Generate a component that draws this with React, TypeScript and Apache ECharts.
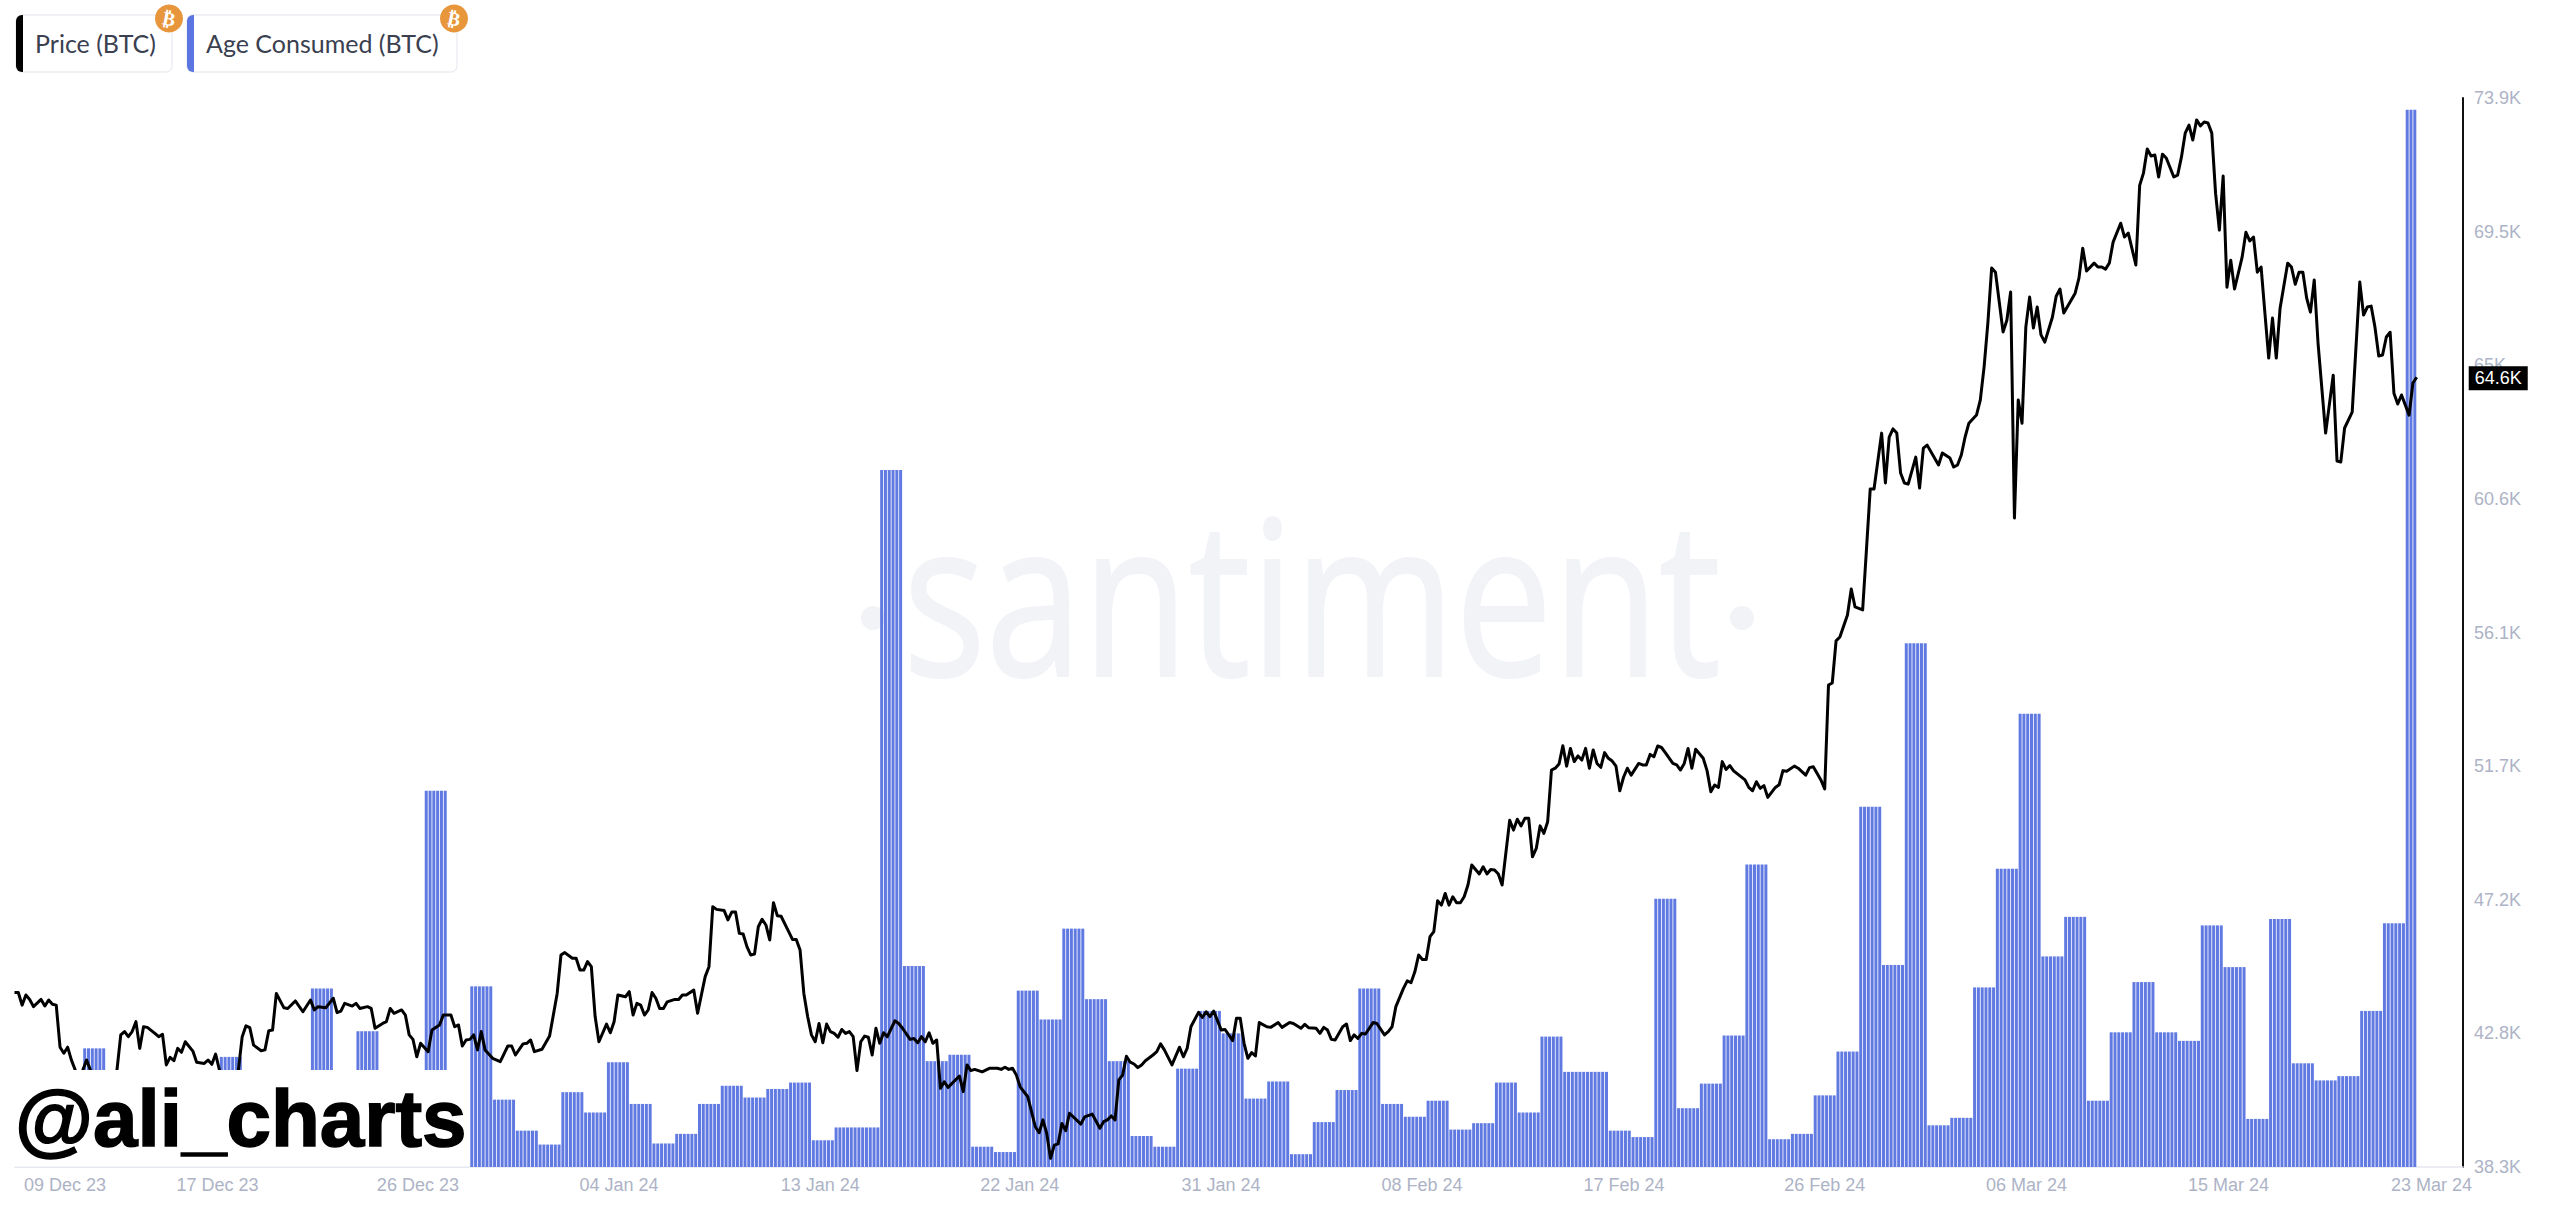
import React, { useEffect, useRef } from "react";
import * as echarts from "echarts";

// 4-hour step index, price in thousands of USD
const pricePoints: [number, number][] = [
[0,44.11],[1,44.11],[2,43.69],[3,44.03],[4,43.88],[5,43.64],[7,43.88],[8,43.66],[9,43.86],[10,43.72],[11,43.69],[12,42.29],[13,42.09],[14,42.29],[15,41.86],[16,41.53],[17,41.0],[18,41.53],[19,41.86],[20,41.53],[21,41.0],[24,41.0],[27,41.53],
[28,42.7],[29,42.81],[30,42.64],[31,42.81],[32,43.14],[33,42.25],[34,42.97],[35,42.95],[37,42.75],[38,42.64],[39,42.72],[40,41.7],[41,41.95],[42,41.84],[43,42.25],[44,42.12],[45,42.47],[47,42.16],[48,41.79],[50,41.75],[51,41.86],[52,41.72],[53,42.06],[54,41.53],[56,41.0],[59,41.53],
[60,42.64],[61,43.0],[62,42.94],[63,42.36],[65,42.17],[66,42.2],[67,42.84],[68,42.86],[69,44.08],[71,43.6],[72,43.58],[74,43.83],[76,43.47],[78,43.86],[79,43.53],[80,43.64],[82,43.6],[84,43.92],[85,43.44],[86,43.49],[87,43.75],[89,43.66],[90,43.75],[91,43.58],[93,43.64],[94,43.58],[95,42.92],[97,43.08],[98,43.14],[99,43.58],[100,43.42],[102,43.53],[103,43.36],[104,42.7],[105,42.55],[106,41.97],[107,42.42],[109,42.14],[110,42.86],[112,43.03],[113,43.36],[115,43.36],[116,42.97],[117,43.03],[118,42.33],[119,42.53],[120,42.55],[121,42.7],[122,42.2],[123,42.81],[124,42.2],[126,41.92],[128,41.81],[130,42.33],[131,42.33],[132,42.03],[134,42.4],[135,42.42],[136,42.53],[137,42.14],[139,42.22],[141,42.66],[143,44.08],[144,45.36],[145,45.44],[147,45.25],[148,45.25],[149,44.86],[150,44.86],[151,45.14],[152,44.97],[153,43.31],[154,42.47],[156,43.06],[157,42.77],[158,43.14],[159,44.03],[161,43.97],[162,44.14],[163,43.36],[164,43.75],[165,43.69],[166,43.36],[167,43.53],[168,44.11],[169,43.92],[170,43.58],[171,43.58],[172,43.8],[174,43.88],[175,43.88],[176,44.03],[177,44.03],[179,44.19],[180,43.42],[182,44.64],[183,44.97],[184,46.97],[185,46.88],[187,46.84],[188,46.53],[189,46.79],[190,46.79],[191,46.08],[192,46.06],[193,45.64],[194,45.36],[195,45.39],[196,46.3],[197,46.55],[198,46.36],[199,45.86],[200,47.1],[201,46.67],[202,46.65],[204,46.14],[205,45.88],[206,45.88],
[207,45.53],[208,44.08],[209,43.31],[210,42.7],[211,42.47],[212,43.08],[213,42.44],[214,43.06],[215,42.81],[216,42.75],[217,42.62],[218,42.88],[219,42.75],[220,42.81],[221,42.64],[222,41.51],[223,42.47],[224,42.66],[225,42.62],[226,42.03],[227,42.92],[228,42.42],[229,42.77],[230,42.64],[232,43.17],[233,43.08],[234,42.92],[236,42.55],[237,42.58],[238,42.44],[239,42.64],[240,42.47],[241,42.77],[242,42.42],[243,42.53],[244,40.92],[245,41.14],[246,40.95],[249,41.33],[250,40.81],[251,41.7],[252,41.51],[253,41.55],[255,41.47],[257,41.59],[259,41.59],[260,41.55],[261,41.62],[262,41.55],[263,41.59],[264,41.36],[265,40.97],[267,40.64],[269,39.64],[270,39.44],[271,39.87],[272,39.42],[273,38.59],[274,39.03],[275,39.07],[276,39.75],[277,39.51],[278,40.09],[281,39.73],[282,39.97],[284,40.06],[286,39.59],[287,39.81],[288,39.87],[289,40.0],[290,39.87],[291,41.2],[292,41.36],[293,41.99],[294,41.79],[295,41.73],[296,41.61],[297,41.7],[298,41.84],[300,42.03],[301,42.14],[302,42.4],[303,42.2],[305,41.7],[307,42.29],[308,41.97],[309,42.25],[310,42.97],[312,43.45],[313,43.28],[314,43.47],[315,43.31],[316,43.49],[318,42.86],[319,42.88],[321,42.51],[322,43.25],[323,43.25],[324,42.42],[325,41.92],[326,42.11],[327,42.0],[328,43.11],[330,42.97],[331,42.95],[333,43.11],[334,42.95],[336,43.11],[337,43.08],[339,42.92],[340,43.05],[341,42.94],[343,42.92],[344,42.75],[345,42.95],[346,42.86],[347,42.55],[348,42.53],[350,42.97],[351,43.06],[352,42.51],[353,42.7],[354,42.58],[355,42.75],[356,42.73],[358,43.11],[359,43.08],[361,42.7],[362,42.81],[363,42.97],[364,43.64],[366,44.25],[367,44.5],[368,44.44],[369,44.8],[370,45.36],[371,45.21],[372,45.21],[373,45.97],[374,46.14],[375,47.17],[376,47.02],[377,47.41],[378,47.02],[379,47.3],[380,47.1],[381,47.1],[382,47.3],[383,47.69],[384,48.36],[386,48.06],[387,48.3],[388,48.06],[389,48.21],[390,48.19],[391,48.06],[392,47.69],[394,49.85],[395,49.52],[396,49.88],[397,49.66],[398,49.91],[399,49.91],[400,48.63],[401,48.91],[402,49.66],[403,49.41],[404,49.8],
[405,51.52],[406,51.58],[407,51.72],[408,52.33],[409,51.65],[410,52.24],[411,51.8],[412,51.99],[413,51.85],[414,52.24],[415,51.58],[416,52.19],[417,51.74],[418,51.61],[419,52.1],[420,51.91],[421,51.82],[422,51.65],[423,50.83],[424,51.28],[425,51.58],[426,51.35],[428,51.74],[429,51.69],[430,51.69],[431,52.04],[432,51.96],[433,52.32],[434,52.27],[435,52.1],[437,51.74],[438,51.69],[439,51.52],[440,51.74],[441,52.24],[442,51.58],[443,52.21],[445,51.91],[446,51.5],[447,50.8],[448,51.02],[449,50.94],[450,51.8],[451,51.54],[452,51.67],[453,51.49],[454,51.39],[456,51.19],[457,50.94],[458,50.83],[459,51.13],[460,50.91],[461,51.0],[462,50.61],[464,50.94],[465,51.03],[466,51.5],[467,51.48],[469,51.65],[470,51.58],[472,51.35],[473,51.6],[474,51.63],[476,51.19],[477,50.89],
[478,54.35],[479,54.42],[480,55.82],[481,55.95],[483,56.68],[484,57.55],[485,56.95],[487,56.85],[488,58.85],[489,60.88],[490,60.88],[492,62.74],[493,61.08],[494,62.61],[495,62.88],[496,62.74],[497,61.41],[498,61.08],[499,61.04],[501,61.94],[502,60.91],[503,62.24],[504,62.34],[507,61.68],[508,62.08],[510,61.91],[511,61.61],[512,61.68],[513,62.01],[514,62.61],[515,63.07],[517,63.34],[518,63.84],[519,64.94],[520,66.41],[521,68.24],[522,68.1],[524,66.11],[525,66.5],[526,67.44],[527,59.91],[528,63.84],[529,63.07],[530,66.27],[531,67.27],[532,66.24],[533,66.94],[534,66.01],[535,65.77],[537,66.6],[538,67.3],[539,67.54],[540,66.74],[543,67.4],[544,67.9],[545,68.9],[546,68.14],[548,68.4],[549,68.27],[550,68.27],[551,68.2],[552,68.4],[553,69.1],[555,69.73],[556,69.27],[557,69.4],[559,68.34],[560,70.99],[561,71.4],[562,72.2],[563,71.97],[564,72.0],[565,71.27],[566,72.03],[567,71.9],[569,71.27],[570,71.33],[571,71.93],[572,72.73],[573,73.0],[574,72.5],[575,73.17],[576,72.97],[577,73.1],[578,73.07],[579,72.73],[580,70.73],[581,69.5],[582,71.3],[583,67.6],[584,68.5],[585,67.54],[587,68.6],[588,69.43],[589,69.14],[590,69.27],[591,68.1],[592,68.27],[593,66.74],[594,65.24],[595,66.57],[596,65.24],[597,66.9],[599,68.4],[600,68.27],[601,67.7],[602,68.1],[603,68.1],[604,67.24],[605,66.77],[606,67.84],[607,65.74],[609,62.74],[611,64.67],[612,61.81],[613,61.78],[614,62.91],[616,63.44],[618,67.77],[619,66.67],[620,66.94],[621,66.97],[622,66.27],[623,65.31],[624,65.34],[625,65.94],[626,66.1],[627,64.07],[628,63.71],[629,64.01],[631,63.34],[632,64.41],[633,64.6],
];

// one value per day; null where the bar is hidden behind the watermark panel
const ageConsumed: (number | null)[] = [
null,null,null,11.1,null,null,null,null,null,10.3,null,null,null,16.7,null,12.7,null,null,35.2,null,
16.9,6.3,3.4,2.1,7.0,5.1,9.8,5.9,2.2,3.1,5.9,7.6,6.5,7.3,7.9,2.5,3.7,3.7,65.2,18.8,
9.9,10.5,1.9,1.4,16.5,13.8,22.3,15.7,9.9,2.9,1.9,9.2,14.6,12.5,6.4,8.0,1.2,4.2,7.2,16.7,
5.9,4.7,6.2,3.5,4.1,7.9,5.1,12.2,8.9,8.9,3.4,2.8,25.1,5.5,7.8,12.3,28.3,2.6,3.1,6.7,
10.8,33.7,18.9,49.0,3.9,4.6,16.8,27.9,42.4,19.7,23.4,6.2,12.6,17.3,12.6,11.8,22.6,18.7,4.5,23.2,
9.7,8.1,8.5,14.6,22.8,98.9,
];
const lastDayStripes = 3;

const xTickLabels = ["09 Dec 23","17 Dec 23","26 Dec 23","04 Jan 24","13 Jan 24","22 Jan 24","31 Jan 24","08 Feb 24","17 Feb 24","26 Feb 24","06 Mar 24","15 Mar 24","23 Mar 24"];
const xTickSteps = [13.3,53.5,106.3,159.3,212.3,264.9,317.9,370.9,424.1,477,530.2,583.4,636.9];
const yTickValues = [38.3,42.75,47.2,51.65,56.1,60.55,65,69.45,73.9];
const yTickLabels = ["38.3K","42.8K","47.2K","51.7K","56.1K","60.6K","65K","69.5K","73.9K"];

const stripes: [number, number | null][] = [];
ageConsumed.forEach((v, day) => {
  const n = day === ageConsumed.length - 1 ? lastDayStripes : 6;
  for (let k = 0; k < n; k++) stripes.push([day * 6 + k + 0.5, v]);
});

const FONT = "'Liberation Sans', Arial, sans-serif";
const LEGEND_FONT = "Lato, sans-serif";
const ORANGE = "#E7963B";
const AXIS_GREY = "#e6e8ef";

function legendCard(x: number, w: number, color: string, label: string) {
  return [
    { type: "rect", z: 60, shape: { x: x, y: 15, width: w, height: 57, r: 6 }, style: { fill: "#fff", stroke: "#eceef3", lineWidth: 1.5 } },
    { type: "rect", z: 61, shape: { x: x, y: 15, width: 7, height: 57, r: [6, 0, 0, 6] }, style: { fill: color } },
    { type: "text", z: 62, x: x + 19, y: 43, style: { text: label, fill: "#3a4050", fontSize: 25, fontFamily: LEGEND_FONT, textVerticalAlign: "middle" } },
    { type: "circle", z: 63, shape: { cx: x + w - 3, cy: 18.5, r: 14 }, style: { fill: ORANGE } },
    { type: "text", z: 64, x: x + w - 3, y: 18.5, rotation: -0.2, style: { text: "₿", fill: "#fff", fontSize: 19, fontWeight: "bold", fontFamily: "'DejaVu Sans'", textAlign: "center", textVerticalAlign: "middle" } },
  ];
}

export default function App() {
  const ref = useRef<HTMLDivElement>(null);
  useEffect(() => {
    document.body.style.margin = "0";
    document.body.style.background = "#fff";
    const chart = echarts.init(ref.current!, null, { renderer: "svg" });
    chart.setOption({
      animation: false,
      backgroundColor: "#fff",
      grid: { left: 14.5, right: 97, top: 98, bottom: 44, containLabel: false },
      xAxis: {
        type: "value",
        min: 0,
        max: 645.2,
        splitLine: { show: false },
        axisLine: { show: true, onZero: false, lineStyle: { color: AXIS_GREY, width: 1.5 } },
        axisTick: { show: false },
        axisLabel: {
          customValues: xTickSteps,
          formatter: (v: number) => xTickLabels[xTickSteps.indexOf(v)] ?? "",
          color: "#adb3c6",
          fontSize: 18,
          fontFamily: FONT,
          margin: 9,
          hideOverlap: false,
        },
      },
      yAxis: [
        {
          type: "value",
          position: "right",
          min: 38.3,
          max: 73.9,
          splitLine: { show: false },
          axisLine: { show: true, onZero: false, lineStyle: { color: "#111", width: 2 } },
          axisTick: { show: false },
          axisLabel: {
            customValues: yTickValues,
            formatter: (v: number) => yTickLabels[yTickValues.indexOf(v)] ?? "",
            color: "#adb3c6",
            fontSize: 18,
            fontFamily: FONT,
            margin: 11,
          },
        },
        { type: "value", min: 0, max: 100, show: false },
      ],
      series: [
        {
          name: "Age Consumed (BTC)",
          type: "bar",
          yAxisIndex: 1,
          barWidth: 3,
          itemStyle: { color: "#607AE2" },
          data: stripes,
          z: 2,
        },
        {
          name: "Price (BTC)",
          type: "line",
          yAxisIndex: 0,
          data: pricePoints,
          showSymbol: false,
          symbol: "none",
          clip: false,
          lineStyle: { color: "#000", width: 3, join: "round" },
          endLabel: {
            show: true,
            formatter: () => "64.6K",
            color: "#fff",
            backgroundColor: "#000",
            padding: [3, 6, 3, 6],
            fontSize: 18,
            fontFamily: FONT,
            distance: 52,
            offset: [0, 1],
          },
          z: 3,
        },
      ],
      graphic: {
        elements: [
          { type: "text", z: -5, x: 903, y: 701, scaleX: 0.8, style: { text: "santiment", fill: "#f1f3f7", stroke: "#f1f3f7", lineWidth: 2, fontSize: 217, fontFamily: "'Open Sans'", textVerticalAlign: "bottom" } },
          { type: "circle", z: -5, shape: { cx: 873, cy: 618, r: 12 }, style: { fill: "#f1f3f7" } },
          { type: "circle", z: -5, shape: { cx: 1742, cy: 618, r: 12 }, style: { fill: "#f1f3f7" } },
          { type: "rect", z: 50, shape: { x: 0, y: 1070, width: 469, height: 97 }, style: { fill: "#fff" } },
          { type: "rect", z: 51, shape: { x: 15, y: 1166.5, width: 454, height: 1.5 }, style: { fill: AXIS_GREY } },
          { type: "text", z: 52, x: 15, y: 1118, style: { text: "@ali_charts", fill: "#000", stroke: "#000", lineWidth: 1.5, fontSize: 80, fontWeight: "bold", fontFamily: FONT, textVerticalAlign: "middle" } },
          ...legendCard(16, 156, "#000", "Price (BTC)"),
          ...legendCard(187, 270, "#5B76E0", "Age Consumed (BTC)"),
        ],
      },
    });
    return () => chart.dispose();
  }, []);
  return <div ref={ref} style={{ width: 2560, height: 1211 }} />;
}
